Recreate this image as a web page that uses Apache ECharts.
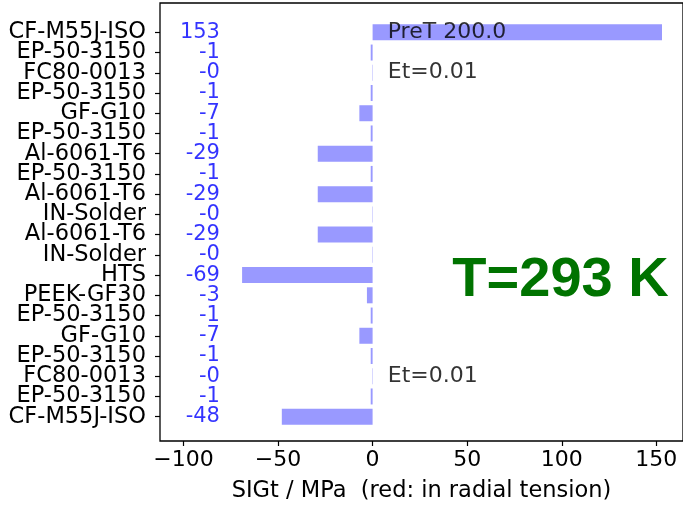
<!DOCTYPE html>
<html>
<head>
<meta charset="utf-8">
<script src="https://cdn.jsdelivr.net/npm/echarts@6/dist/echarts.min.js"></script>
<style>
html,body{margin:0;padding:0;background:#fff;}
#c{width:683px;height:508px;}
</style>
</head>
<body>
<div id="c"></div>
<script>
// ---- data ----
const categories = ['CF-M55J-ISO','EP-50-3150','FC80-0013','EP-50-3150','GF-G10','EP-50-3150','Al-6061-T6','EP-50-3150','Al-6061-T6','IN-Solder','Al-6061-T6','IN-Solder','HTS','PEEK-GF30','EP-50-3150','GF-G10','EP-50-3150','FC80-0013','EP-50-3150','CF-M55J-ISO'];
const sigt = [153, -1, -0.2, -1, -7, -1, -29, -1, -29, -0.2, -29, -0.2, -69, -3, -1, -7, -1, -0.2, -1, -48];
const xTicks = [-100, -50, 0, 50, 100, 150];
const annotText = ['PreT 200.0', 'Et=0.01', 'Et=0.01'];
const annotX = [8, 8, 8];
const annotRow = [0, 2, 17];
const tempLabel = 'T=293 K';
const xName = 'SIGt / MPa  (red: in radial tension)';

// ---- layout constants ----
const X_MIN = -112.4, X_MAX = 164.1;
const VALUE_LABEL_X = -80.7;
const FONT = '"DejaVu Sans", sans-serif';

const chart = echarts.init(document.getElementById('c'), null, {renderer: 'canvas'});
const minus = v => String(v).replace('-', '\u2212');

chart.setOption({
  animation: false,
  backgroundColor: '#fff',
  grid: [
    {left: 160, width: 524, top: 22.2, height: 404.6, show: false},
    {left: 160, width: 524, top: 3, height: 440.5, show: true, borderColor: '#000', borderWidth: 1.3, backgroundColor: 'transparent'}
  ],
  xAxis: [
    {gridIndex: 0, type: 'value', min: X_MIN, max: X_MAX, show: false, splitLine: {show: false}},
    {gridIndex: 1, type: 'value', min: X_MIN, max: X_MAX,
     axisLine: {show: false, onZero: false},
     splitLine: {show: false},
     axisTick: {show: true, length: 5, lineStyle: {color: '#000', width: 1.2}, customValues: xTicks},
     axisLabel: {show: true, customValues: xTicks, formatter: minus, fontFamily: FONT, fontSize: 22, color: '#000', margin: 8},
     name: xName, nameLocation: 'middle', nameGap: 39,
     nameTextStyle: {fontFamily: FONT, fontSize: 22.5, color: '#000'}}
  ],
  yAxis: [
    {gridIndex: 0, type: 'category', data: categories, inverse: true, position: 'left',
     axisLine: {show: false, onZero: false},
     axisTick: {show: true, alignWithLabel: true, length: 5, lineStyle: {color: '#000', width: 1.2}},
     axisLabel: {fontFamily: FONT, fontSize: 22.5, color: '#000', margin: 14, interval: 0},
     splitLine: {show: false}},
    {gridIndex: 1, type: 'value', min: 0, max: 1, show: false, splitLine: {show: false}}
  ],
  series: [
    {type: 'bar', xAxisIndex: 0, yAxisIndex: 0, data: sigt, barWidth: 16,
     itemStyle: {color: '#9999ff'}, silent: true},
    {type: 'scatter', xAxisIndex: 0, yAxisIndex: 0, symbolSize: 0, silent: true,
     data: sigt.map((v, i) => [VALUE_LABEL_X, i, v]),
     label: {show: true, position: 'left', distance: 0, fontFamily: FONT, fontSize: 21, color: '#0000ff',
       formatter: p => p.data[2].toFixed(0)}},
    {type: 'scatter', xAxisIndex: 0, yAxisIndex: 0, symbolSize: 0, silent: true,
     data: annotText.map((t, i) => [annotX[i], annotRow[i], t]),
     label: {show: true, position: 'right', distance: 0, fontFamily: FONT, fontSize: 22, color: '#000',
       formatter: p => p.data[2]}}
  ],
  graphic: [
    {type: 'text', silent: true, style: {text: tempLabel, x: 560.5, y: 281, align: 'center', verticalAlign: 'middle',
      font: 'bold 56px "Liberation Sans", Arial, sans-serif', fill: '#007300'}}
  ]
});
</script>
</body>
</html>
